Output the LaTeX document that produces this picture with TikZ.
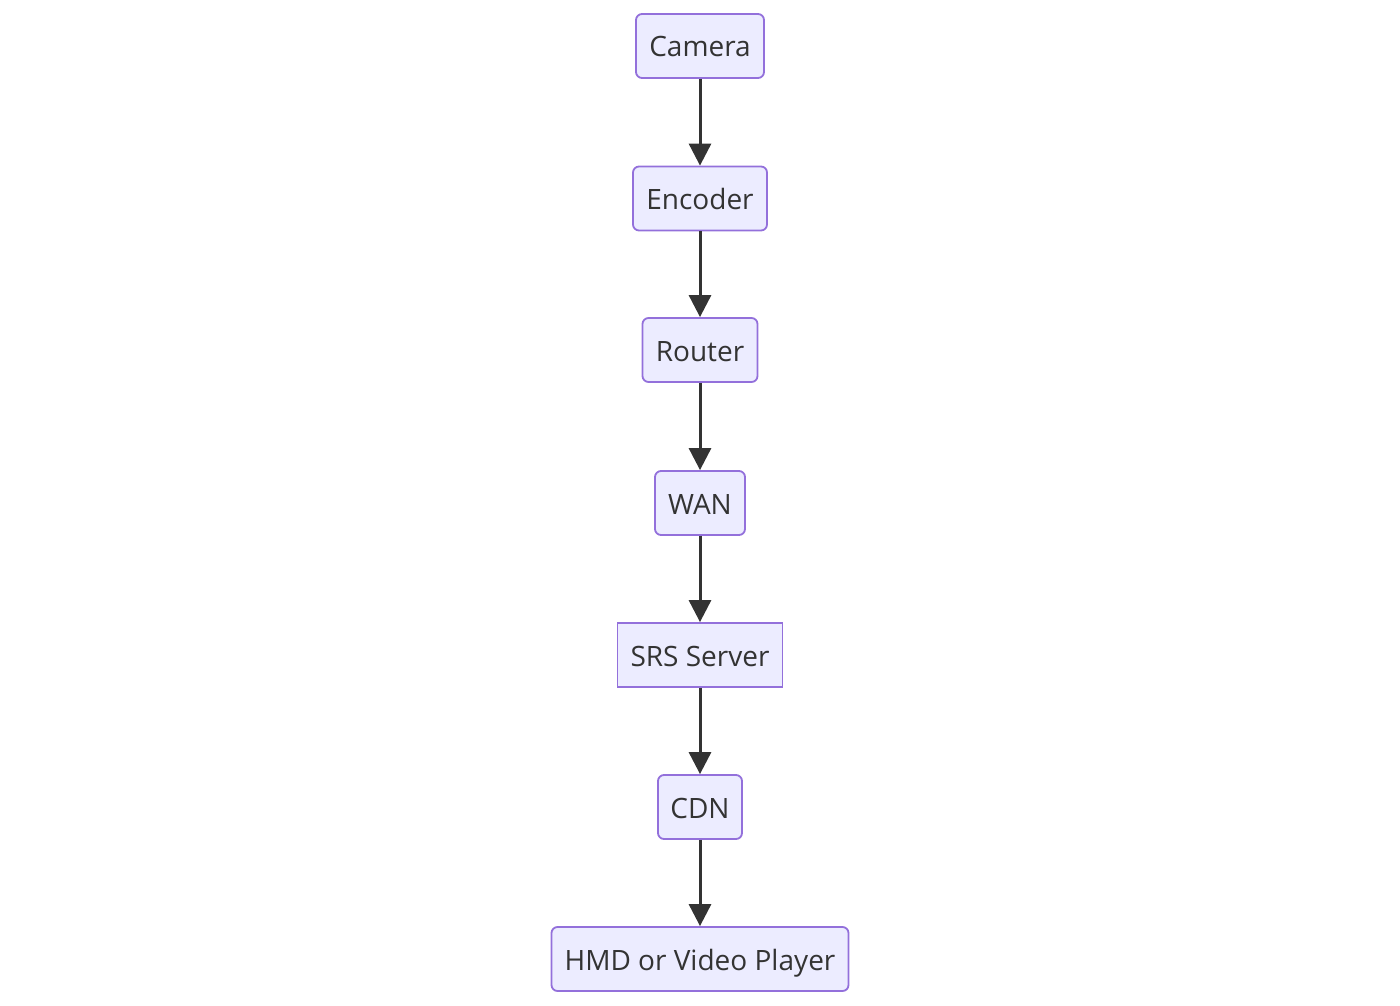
\documentclass[tikz,border=0pt]{standalone}
\usepackage{fontspec}
\setmainfont{Open Sans}
\usetikzlibrary{arrows.meta}
\definecolor{nodefill}{HTML}{ECECFF}
\definecolor{nodeline}{HTML}{9370DB}
\definecolor{linecol}{HTML}{333333}
\tikzset{
  box/.style={draw=nodeline, fill=nodefill, line width=1.8pt, rounded corners=6pt,
    minimum height=64pt, inner sep=0pt, font=\fontsize{28}{32}\selectfont, text=linecol,
    text height=24pt, text depth=2pt},
  sqbox/.style={box, rounded corners=0pt},
  flow/.style={draw=linecol, line width=3pt, -{Triangle[length=22pt,width=22pt]}}
}
\begin{document}
\begin{tikzpicture}[x=1pt,y=-1pt]
\useasboundingbox (0,0) rectangle (1400,1006);
\node[box, minimum width=128pt] (cam) at (700,46) {Camera};
\node[box, minimum width=134pt] (enc) at (700,198.5) {Encoder};
\node[box, minimum width=115pt] (rou) at (700,350) {Router};
\node[box, minimum width=90pt] (wan) at (700,503) {WAN};
\node[sqbox, minimum width=165pt] (srs) at (700,655) {SRS Server};
\node[box, minimum width=84pt] (cdn) at (700,807) {CDN};
\node[box, minimum width=297pt] (hmd) at (700,959) {HMD or Video Player};
\draw[flow] (cam) -- (enc);
\draw[flow] (enc) -- (rou);
\draw[flow] (rou) -- (wan);
\draw[flow] (wan) -- (srs);
\draw[flow] (srs) -- (cdn);
\draw[flow] (cdn) -- (hmd);
\end{tikzpicture}
\end{document}
